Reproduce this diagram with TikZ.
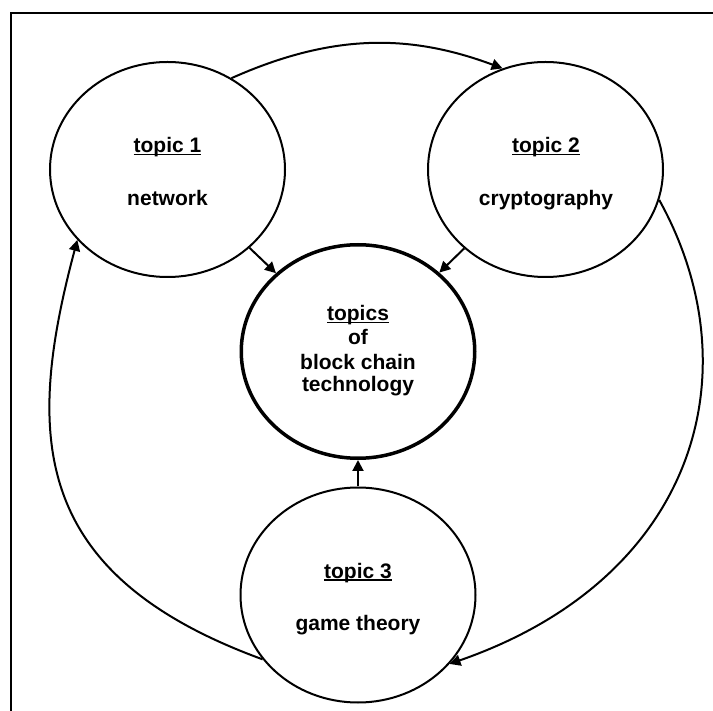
\documentclass[tikz,border=0pt]{standalone}
\usepackage{fontspec}
\setmainfont{Liberation Sans}
\usetikzlibrary{shapes.geometric,arrows.meta}
% underline drawn just below the baseline, crossing the descenders
\newcommand\topicul[1]{\setbox0\hbox{#1}\rlap{\rule[-2.5pt]{\wd0}{1.6pt}}\box0}

\begin{document}
\begin{tikzpicture}[x=1pt,y=1pt,
  topicbox/.style={ellipse,draw,line width=2pt,minimum width=235pt,minimum height=215pt,inner sep=0pt},
  corebox/.style={topicbox,line width=3.5pt,minimum width=233.5pt,minimum height=213.5pt},
  lbl/.style={anchor=base,inner sep=0pt,font=\fontsize{21}{24}\selectfont\bfseries},
  link/.style={line width=2pt,-{Triangle[length=11pt,width=11pt]}},
]
\useasboundingbox (0,0) rectangle (713,-711);
% frame along the left and top edges
\draw[line width=2pt] (11,-711) -- (11,-13) -- (713,-13);

% topic ellipses
\node[topicbox] (t1) at (167.5,-169.5) {};
\node[topicbox] (t2) at (545.5,-169.5) {};
\node[corebox] (core) at (358,-351.5) {};
\node[topicbox] (t3) at (358,-595) {};

% labels
\node[lbl] (t1head) at (167.5,-153) {\topicul{topic 1}};
\node[lbl] (t1text) at (167.5,-206) {network};
\node[lbl] (t2head) at (546,-153) {\topicul{topic 2}};
\node[lbl] (t2text) at (546,-206) {cryptography};
\node[lbl] (t3head) at (358,-578) {\topicul{topic 3}};
\node[lbl] (t3text) at (358,-630) {game theory};
\node[lbl] (corea) at (358,-321) {\topicul{topics}};
\node[lbl] (coreb) at (358,-345) {of};
\node[lbl] (corec) at (358,-369.5) {block chain};
\node[lbl] (cored) at (358,-392) {technology};

% links into the core topic
\draw[link] (t1) -- (core);
\draw[link] (t2) -- (core);
\draw[link] (t3) -- (core);

% cycle around the outside
\draw[link] (t1.55) .. controls (333,-33) and (410,-34) .. (t2.113);
\draw[link] (t2.-15) .. controls (754,-371) and (697,-578) .. (t3.-37);
\draw[link] (t3.214) .. controls (30,-574.5) and (25,-436) .. (t1.218);
\end{tikzpicture}
\end{document}
